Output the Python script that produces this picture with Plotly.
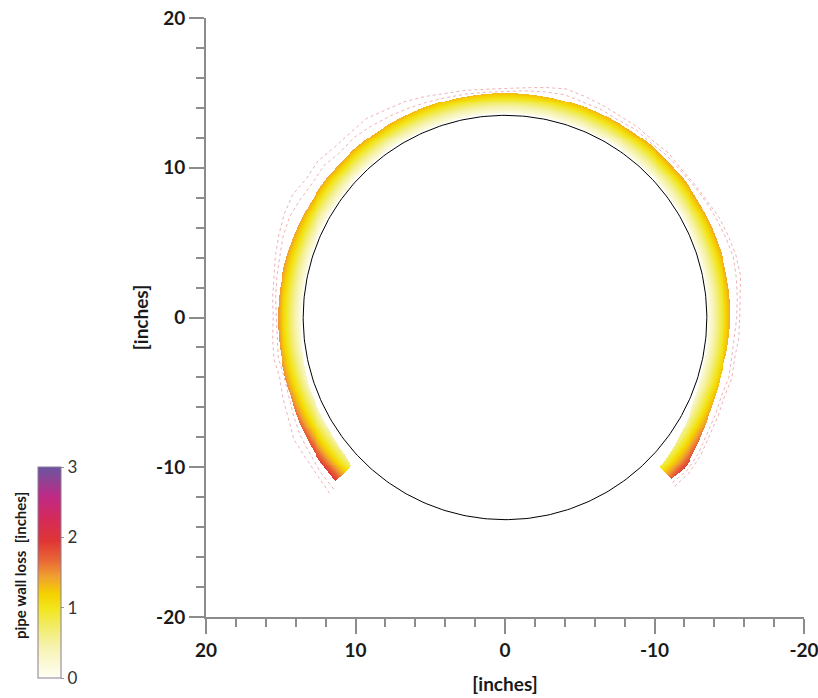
import numpy as np
import plotly.graph_objects as go

# ---------------- data ----------------
R_PIPE = 13.5      # inner pipe circle radius [inches]
LOSS_SCALE = 0.88  # colour value per inch of radial offset

# wall-loss envelope along the pipe (angle measured in data coords, deg)
ANGLE_DEG = [-44, -40, -30, -20, -10, 0, 15, 30, 45, 60, 75, 90, 105, 120,
             135, 150, 165, 180, 195, 205, 215, 220, 224]
LOSS_MIN = [0.75, 0.6, 0.4, 0.4, 0.25, 0.12, 0.12, 0.12, 0.12, 0.12, 0.12, 0.12, 0.12,
            0.12, 0.12, 0.12, 0.12, 0.12, 0.15, 0.35, 0.65, 0.8, 0.9]
LOSS_MAX = [2.25, 2.2, 2.0, 1.75, 1.7, 1.7, 1.65, 1.6, 1.6, 1.55, 1.5, 1.5,
            1.5, 1.55, 1.6, 1.6, 1.6, 1.6, 1.45, 1.6, 2.0, 2.2, 2.0]

# outlier profiles (radius vs angle)
NOISE_ANGLE = list(range(-45, 226, 5))
NOISE_R1 = [16.6, 16.4, 16.3, 16.3, 16.0, 15.8, 15.6, 15.7, 15.6, 15.5, 15.6,
            15.7, 15.9, 16.1, 16.3, 16.4, 16.2, 16.3, 16.1, 16.1, 16.2, 16.0,
            15.9, 15.7, 15.5, 15.4, 15.3, 15.3, 15.4, 15.6, 15.8, 15.7, 15.6,
            15.5, 15.5, 15.4, 15.5, 15.4, 15.5, 15.6, 15.8, 15.9, 16.0, 16.0,
            15.8, 15.7, 15.7, 15.6, 15.7, 15.6, 15.7, 15.8, 16.0, 16.1, 16.0]
NOISE_R2 = [16.2, 16.1, 15.9, 15.8, 15.6, 15.4, 15.3, 15.4, 15.3, 15.3, 15.4,
            15.5, 15.6, 15.8, 15.9, 15.8, 15.7, 15.8, 15.6, 15.7, 15.6, 15.5,
            15.4, 15.3, 15.2, 15.15, 15.1, 15.1, 15.2, 15.3, 15.4, 15.3, 15.3,
            15.2, 15.3, 15.2, 15.3, 15.3, 15.4, 15.5, 15.6, 15.7, 15.8, 15.7,
            15.6, 15.5, 15.4, 15.4, 15.5, 15.4, 15.5, 15.6, 15.8, 15.9, 15.7]

X_TICKS = [20, 10, 0, -10, -20]
Y_TICKS = [-20, -10, 0, 10, 20]
CB_TICKS = [0, 1, 2, 3]

COLORSCALE = [
    [0.0, '#fffff4'], [0.08, '#faf8d0'], [0.16, '#f5f2a8'], [0.25, '#f1ec62'],
    [0.33, '#f2e51c'], [0.4, '#f5d000'], [0.48, '#f0a030'], [0.56, '#e86535'],
    [0.65, '#e03535'], [0.76, '#d42a5c'], [0.86, '#bf2a85'], [1.0, '#6a55a0'],
]

# ---------------- band raster ----------------
step = 0.065
xs = np.arange(-17, 17.0001, step)
ys = np.arange(-12, 17.0001, step)
XX, YY = np.meshgrid(xs, ys)
RR = np.hypot(XX, YY)
TH = np.degrees(np.arctan2(YY, XX))
TH = np.where(TH < -90, TH + 360, TH)
lo = np.interp(TH, ANGLE_DEG, LOSS_MIN)
hi = np.interp(TH, ANGLE_DEG, LOSS_MAX)
d = RR - R_PIPE
mask = (TH >= ANGLE_DEG[0]) & (TH <= ANGLE_DEG[-1]) & (d >= lo) & (d <= hi)
Z = np.where(mask, d * LOSS_SCALE, np.nan).astype(np.float32)

fig = go.Figure()

fig.add_trace(go.Heatmap(
    x=xs, y=ys, z=Z, zmin=0, zmax=3, colorscale=COLORSCALE,
    hoverinfo='skip', zsmooth=False,
    colorbar=dict(
        x=(38 - 206) / 598, xanchor='left', xpad=0,
        y=(617 - 678) / 599, yanchor='bottom', ypad=0,
        len=211, lenmode='pixels', thickness=23,
        outlinewidth=1, outlinecolor='#8a7a9a',
        tickvals=CB_TICKS, ticks='outside', ticklen=3, tickcolor='#999',
        tickfont=dict(family='Lato', size=17, color='#333'),
    ),
))

# outlier traces
for rr in (NOISE_R1, NOISE_R2):
    a = np.radians(NOISE_ANGLE)
    r = np.array(rr)
    fig.add_trace(go.Scatter(
        x=r * np.cos(a), y=r * np.sin(a), mode='lines',
        line=dict(color='rgba(220,100,110,0.5)', width=1, dash='dot'),
        hoverinfo='skip', showlegend=False))

# pipe circle
t = np.linspace(0, 2 * np.pi, 361)
fig.add_trace(go.Scatter(
    x=R_PIPE * np.cos(t), y=R_PIPE * np.sin(t), mode='lines',
    line=dict(color='black', width=1), hoverinfo='skip', showlegend=False))

axis_common = dict(
    showline=True, linecolor='#8c8c8c', linewidth=2,
    ticks='outside', ticklen=15, tickwidth=2, tickcolor='#8c8c8c',
    showgrid=False, zeroline=False, ticklabeloverflow='allow',
    tickfont=dict(family='Lato', size=19, color='#1a1a1a', weight='bold'),
    minor=dict(dtick=2, ticks='outside', ticklen=8, tickwidth=1.5,
               tickcolor='#8c8c8c', showgrid=False),
)

fig.update_layout(
    width=818, height=698,
    margin=dict(l=206, r=14, t=18, b=81, autoexpand=False),
    paper_bgcolor='white', plot_bgcolor='white',
    showlegend=False,
    xaxis=dict(range=[20, -20], autorange=False, tickvals=X_TICKS,
               ticktext=[str(v) for v in X_TICKS],
               title=dict(text='[inches]', standoff=18,
                          font=dict(family='Lato', size=19, color='#1a1a1a', weight='bold')),
               **axis_common),
    yaxis=dict(range=[-20, 20], autorange=False, tickvals=Y_TICKS,
               ticktext=[str(v) for v in Y_TICKS],
               title=dict(text='[inches]', standoff=2,
                          font=dict(family='Lato', size=19, color='#1a1a1a', weight='bold')),
               **axis_common),
    annotations=[dict(
        text='pipe wall loss  [inches]', textangle=-90,
        xref='paper', yref='paper', x=(20 - 206) / 598, y=(617 - 566) / 599,
        xanchor='center', yanchor='middle',
        showarrow=False, font=dict(family='Lato', size=15, color='#1a1a1a', weight='bold'))],
)

fig.write_html('out.html')
